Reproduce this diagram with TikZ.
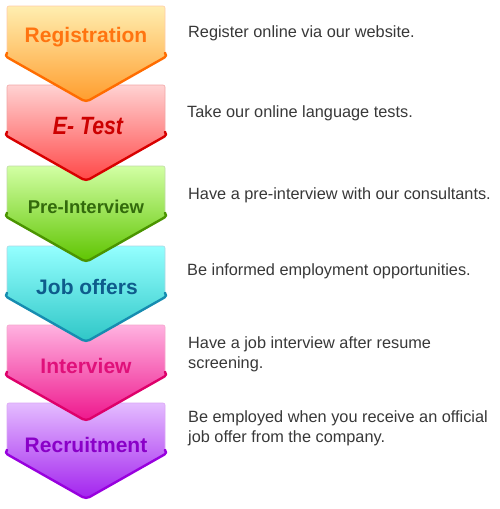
\documentclass[tikz,border=0pt]{standalone}
\usepackage{fontspec}
\setmainfont{Liberation Sans}
\newfontfamily\etestfont[FakeStretch=0.85]{Liberation Sans}

\definecolor{regtop}{HTML}{FFEEB0}\definecolor{regbot}{HTML}{FF9C2C}
\definecolor{regedge}{HTML}{FF6C00}\definecolor{regink}{HTML}{FF7410}
\definecolor{tsttop}{HTML}{FFD2D2}\definecolor{tstbot}{HTML}{FF4646}
\definecolor{tstedge}{HTML}{D80000}\definecolor{tstink}{HTML}{CC0000}
\definecolor{pretop}{HTML}{D2FFA4}\definecolor{prebot}{HTML}{5EC400}
\definecolor{preedge}{HTML}{4A9400}\definecolor{preink}{HTML}{336A0C}
\definecolor{jobtop}{HTML}{94FFFF}\definecolor{jobbot}{HTML}{2EC6C6}
\definecolor{jobedge}{HTML}{168CB0}\definecolor{jobink}{HTML}{0E5C8C}
\definecolor{inttop}{HTML}{FFB2E0}\definecolor{intbot}{HTML}{EE168C}
\definecolor{intedge}{HTML}{DE006A}\definecolor{intink}{HTML}{E0107A}
\definecolor{rectop}{HTML}{E4BCFF}\definecolor{recbot}{HTML}{A222EE}
\definecolor{recedge}{HTML}{9800DE}\definecolor{recink}{HTML}{8A00C8}
\definecolor{notegray}{HTML}{383838}

\tikzset{
  stage label/.style={font=\fontsize{21}{25}\selectfont\bfseries, anchor=base, inner sep=0pt},
  stage note/.style={font=\fontsize{16.3}{20}\selectfont, text=notegray, anchor=base west,
    align=left, inner sep=0pt},
  chevron edge/.style={line width=2.4pt, line join=round, line cap=round},
}

\begin{document}
\begin{tikzpicture}[x=1pt,y=1pt]
  \useasboundingbox (0,0) rectangle (500,-509);
  % chevrons, lowest first so that each one lies over the next
  \foreach \st/\t in {rec/403, int/325, job/246, pre/166, tst/85, reg/6}{
    \begin{scope}[shift={(0,-\t)}]
      \shade[top color=\st top, bottom color=\st bot, rounded corners=2pt]
        (7,0) -- (165,0) -- (165,-47) -- (168,-49.5) [rounded corners=4pt] -- (86,-96)
        [rounded corners=2pt] -- (4,-49.5) -- (7,-47) -- cycle;
      \draw[\st edge!35, line width=0.6pt, rounded corners=2pt]
        (7,-47) -- (7,0) -- (165,0) -- (165,-47);
      \draw[chevron edge, \st edge, rounded corners=4pt]
        (165.5,-47.5) -- (168,-49.5) -- (86,-96) -- (4,-49.5) -- (6.5,-47.5);
    \end{scope}
  }
  \node[stage label, text=regink] (lab1) at (86,-42) {Registration};
  \node[stage label, text=tstink, font=\etestfont\fontsize{25}{28}\selectfont\bfseries\itshape]
    (lab2) at (88,-134) {E- Test};
  \node[stage label, text=preink, font=\fontsize{18.5}{22}\selectfont\bfseries]
    (lab3) at (86,-213) {Pre-Interview};
  \node[stage label, text=jobink] (lab4) at (87,-294) {Job offers};
  \node[stage label, text=intink] (lab5) at (86,-373) {Interview};
  \node[stage label, text=recink] (lab6) at (86,-452) {Recruitment};

  % two-line notes sit on the baseline of their last line
  \node[stage note] (txt1) at (188,-37) {Register online via our website.};
  \node[stage note] (txt2) at (187,-117) {Take our online language tests.};
  \node[stage note] (txt3) at (188,-199) {Have a pre-interview with our consultants.};
  \node[stage note] (txt4) at (187,-275) {Be informed employment opportunities.};
  \node[stage note] (txt5) at (188,-368) {Have a job interview after resume\\screening.};
  \node[stage note] (txt6) at (188,-442) {Be employed when you receive an official\\job offer from the company.};
\end{tikzpicture}
\end{document}
